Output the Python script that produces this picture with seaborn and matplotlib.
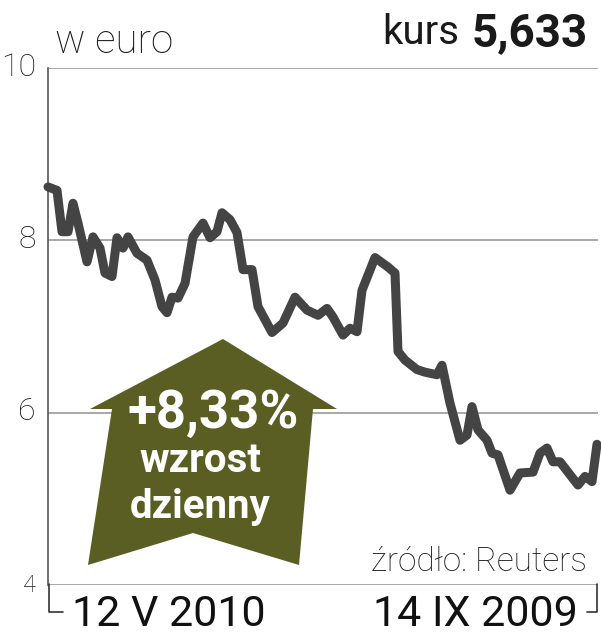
import matplotlib
matplotlib.use("Agg")
import matplotlib.pyplot as plt
from matplotlib.patches import Polygon
import pandas as pd
import seaborn as sns

# trading days (counted from the left edge of the chart) and EUR price
days = [0, 1.8, 2.8, 4, 5, 6, 7.8, 9, 10.4, 11.4, 12.8, 13.8, 15, 16, 17.8,
        19.8, 21.4, 22.8, 23.8, 24.8, 26, 27.4, 29, 31, 32.4, 33.8, 34.8,
        36.4, 37.8, 39, 40.8, 42, 44.8, 47, 49.4, 51.8, 54, 55.8, 57, 59,
        60.4, 61.8, 62.8, 65.4, 68, 69.4, 70, 71.4, 73.8, 75.4, 77.8, 78.8,
        80.4, 82.4, 83.8, 84.8, 86, 87.8, 88.8, 90, 92.4, 94.4, 97, 98.4,
        99.8, 101, 102.4, 104, 106, 107.4, 108.8, 109.8]
price = [8.62, 8.58, 8.10, 8.10, 8.43, 8.20, 7.75, 8.04, 7.91, 7.62, 7.58,
         8.03, 7.91, 8.04, 7.85, 7.77, 7.54, 7.23, 7.16, 7.34, 7.33, 7.50,
         8.04, 8.20, 8.03, 8.10, 8.32, 8.24, 8.09, 7.66, 7.66, 7.23, 6.93,
         7.04, 7.34, 7.19, 7.13, 7.21, 7.11, 6.90, 6.98, 6.94, 7.42, 7.80,
         7.69, 7.62, 6.71, 6.61, 6.50, 6.47, 6.44, 6.55, 6.11, 5.68, 5.74,
         6.07, 5.80, 5.68, 5.53, 5.51, 5.10, 5.30, 5.31, 5.53, 5.59, 5.43,
         5.43, 5.31, 5.16, 5.26, 5.20, 5.633]
y_ticks = [4, 6, 8, 10]
date_labels = ["12 V 2010", "14 IX 2009"]
last_price = "5,633"
daily_change = "+8,33%"

W, H = 601, 640
OLIVE = "#5a5e23"
LINE = "#444444"
GRID = "#a8a8a8"

sns.set_theme(style="white")
plt.rcParams["font.family"] = ["Roboto", "DejaVu Sans"]

df = pd.DataFrame({"day": days, "price": price})

fig = plt.figure(figsize=(W / 100, H / 100), dpi=100)
ax = fig.add_axes([48 / W, 1 - 585 / H, 550 / W, 517 / H])


def fx(px):
    return px / W


def fy(py):
    return 1 - py / H


# grid + frame
for v in y_ticks:
    ax.axhline(v, color=GRID, lw=1.4, zorder=0)
for s in ["top", "right", "bottom"]:
    ax.spines[s].set_visible(False)
ax.spines["left"].set_color("#555555")
ax.spines["left"].set_linewidth(1.2)

# olive arrow (drawn behind the line)
arrow = Polygon([(fx(223), fy(339)), (fx(337), fy(409)), (fx(313), fy(409)),
                 (fx(299), fy(565)), (fx(193), fy(533)), (fx(88), fy(565)),
                 (fx(112), fy(409)), (fx(90), fy(409))],
                closed=True, transform=fig.transFigure, facecolor=OLIVE,
                edgecolor="none", zorder=1)
fig.patches.append(arrow)

sns.lineplot(data=df, x="day", y="price", ax=ax, color=LINE, lw=6.5,
             solid_joinstyle="round", solid_capstyle="round", zorder=3,
             clip_on=False)
ax.set_xlim(0, 110)
ax.set_ylim(4, 10)
ax.set_xticks([])
ax.set_yticks([])
ax.set_xlabel("")
ax.set_ylabel("")

# y tick labels
light = dict(weight="light", color="#1a1a1a")
for v, py in zip(y_ticks, [586, 412, 240, 68]):
    size = 17 if v == 4 else 23
    fig.text(fx(36), fy(py), str(v), ha="right", va="center", fontsize=size, **light)

fig.text(fx(55), fy(42), "w euro", ha="left", va="center", fontsize=29, **light)
fig.text(fx(459), fy(33), "kurs", ha="right", va="center", fontsize=29,
         color="#1a1a1a")
fig.text(fx(588), fy(33), last_price, ha="right", va="center", fontsize=33,
         weight="bold", color="#1a1a1a")
fig.text(fx(587), fy(562), "źródło: Reuters", ha="right", va="center",
         fontsize=24, weight="light", color="#1a1a1a")

# arrow text
fig.text(fx(213), fy(413), daily_change, ha="center", va="center",
         fontsize=38, weight="bold", color="white", zorder=5)
fig.text(fx(200), fy(461), "wzrost", ha="center", va="center",
         fontsize=29, weight="bold", color="white", zorder=5)
fig.text(fx(200), fy(507), "dzienny", ha="center", va="center",
         fontsize=29, weight="bold", color="white", zorder=5)

# date bracket below the axis
bk = dict(color="#333333", lw=1.2, transform=fig.transFigure)
fig.add_artist(plt.Line2D([fx(49), fx(49), fx(63)], [fy(584), fy(612), fy(612)], **bk))
fig.add_artist(plt.Line2D([fx(587), fx(597), fx(597)], [fy(612), fy(612), fy(584)], **bk))
fig.text(fx(169), fy(615), date_labels[0], ha="center", va="center",
         fontsize=31, color="#111111")
fig.text(fx(475), fy(615), date_labels[1], ha="center", va="center",
         fontsize=31, color="#111111")

fig.savefig("out.png", dpi=100, facecolor="white")
